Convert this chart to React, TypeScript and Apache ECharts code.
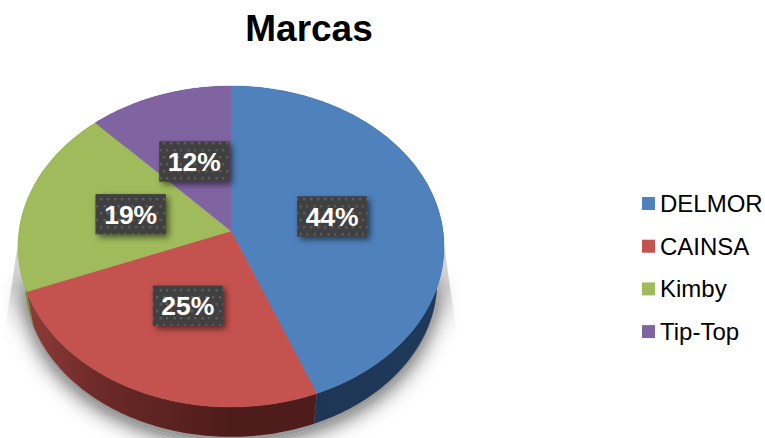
import React, { useEffect, useRef } from "react";
import * as echarts from "echarts";

const brands = ["DELMOR", "CAINSA", "Kimby", "Tip-Top"];
const shares = [44, 25, 19, 12];
const colors = ["#4F81BD", "#C4524F", "#9FBB5B", "#8064A2"];
const titleText = "Marcas";
const FONT = "'Liberation Sans', Arial, sans-serif";

const total = shares.reduce((a, b) => a + b, 0);
const CX = 231, CY = 231, KP = 0.0966, AX = 212, AY = 159;

// projective view of the tilted disc: fraction f of the radius at clockwise angle t (deg from top)
function proj(t: number, f = 1, scale = 1, cy = CY): number[] {
  const a = (t * Math.PI) / 180;
  const s = Math.sin(a), c = Math.cos(a);
  const d = 1 + KP * c * f;
  return [CX + (scale * AX * s * f) / d, cy - (scale * AY * c * f) / d];
}
function arc(t0: number, t1: number, scale = 1, cy = CY): number[][] {
  const out: number[][] = [];
  const n = Math.max(2, Math.ceil(Math.abs(t1 - t0)));
  for (let i = 0; i <= n; i++) out.push(proj(t0 + ((t1 - t0) * i) / n, 1, scale, cy));
  return out;
}
function startOf(i: number) {
  let sum = 0;
  for (let k = 0; k < i; k++) sum += shares[k];
  return (sum / total) * 360;
}
const WALL_SCALE = 0.968, WALL_CY = 266.5;

const dotSvg =
  "data:image/svg+xml;utf8," +
  encodeURIComponent(
    '<svg xmlns="http://www.w3.org/2000/svg" width="14" height="14"><rect width="14" height="14" fill="#404040"/><rect x="2" y="2" width="2.4" height="2.4" fill="#5c5c5c"/><rect x="9" y="2" width="2.4" height="2.4" fill="#5c5c5c"/><rect x="5.5" y="9" width="2.4" height="2.4" fill="#5c5c5c"/><rect x="12" y="9" width="2" height="2.4" fill="#5c5c5c"/></svg>'
  );

const wallStops: Record<number, [number, string][]> = {
  0: [[0, "#1F3A5C"], [1, "#1D3350"]],
  1: [[0, "#4D1C1B"], [0.3, "#4E1C1B"], [0.75, "#6C2A28"], [1, "#8E3C39"]],
  2: [[0, "#5F7A30"], [1, "#7A9A3C"]],
  3: [[0, "#4A3A60"], [1, "#4A3A60"]],
};

const wallSeries = {
  type: "custom",
  name: "wall",
  coordinateSystem: "none",
  silent: true,
  data: shares.map((v, i) => [i, v]),
  renderItem: (_p: any, api: any) => {
    const i = api.value(0) as number;
    const t0 = startOf(i);
    const t1 = t0 + ((api.value(1) as number) / total) * 360;
    const children: any[] = [];
    if (i === 0) {
      children.push({
        type: "polygon",
        shape: { points: [[22, 215], [3, 345], [3, 345], [458, 345], [440, 215]] },
        style: {
          fill: {
            type: "linear", x: 0, y: 0, x2: 0, y2: 1,
            colorStops: [
              { offset: 0, color: "rgba(205,205,205,0.9)" },
              { offset: 0.55, color: "rgba(205,205,205,0.85)" },
              { offset: 1, color: "rgba(255,255,255,0)" },
            ],
          },
        },
      });
      children.push({
        type: "polygon",
        shape: { points: arc(95, 265, WALL_SCALE, WALL_CY + 4) },
        style: { fill: "#9a9a9a", shadowBlur: 22, shadowColor: "rgba(0,0,0,0.7)", shadowOffsetY: 2 },
      });
    }
    const top = arc(t0, t1);
    const bottom = arc(t1, t0, WALL_SCALE, WALL_CY);
    children.push({
      type: "polygon",
      shape: { points: top.concat(bottom) },
      style: {
        fill: {
          type: "linear", x: 1, y: 0, x2: 0, y2: 0,
          colorStops: wallStops[i].map(([offset, color]) => ({ offset, color })),
        },
      },
    });
    return { type: "group", children };
  },
};

const sliceSeries = brands.map((name, i) => ({
  type: "custom",
  name,
  coordinateSystem: "none",
  silent: true,
  itemStyle: { color: colors[i] },
  data: [[i, shares[i]]],
  renderItem: (_p: any, api: any) => {
    const idx = api.value(0) as number;
    const val = api.value(1) as number;
    const t0 = startOf(idx);
    const t1 = t0 + (val / total) * 360;
    const [lx, ly] = proj((t0 + t1) / 2, 0.49);
    const w = 70, h = 40;
    return {
      type: "group",
      children: [
        {
          type: "polygon",
          shape: { points: [[CX, CY], ...arc(t0, t1)] },
          style: { fill: colors[idx], stroke: colors[idx], lineWidth: 0.4 },
        },
        {
          type: "rect",
          shape: { x: lx - w / 2, y: ly - h / 2, width: w, height: h },
          style: {
            fill: "#404040",
            shadowBlur: 6,
            shadowOffsetX: 3,
            shadowOffsetY: 3,
            shadowColor: "rgba(0,0,0,0.55)",
          },
        },
        {
          type: "rect",
          shape: { x: lx - w / 2, y: ly - h / 2, width: w, height: h },
          style: {
            fill: { image: dotSvg, repeat: "repeat", imageWidth: 14, imageHeight: 14 },
          },
        },
        {
          type: "text",
          x: lx,
          y: ly + 0.5,
          style: {
            text: `${val}%`,
            fill: "#fff",
            font: `bold 26.5px ${FONT}`,
            align: "center",
            verticalAlign: "middle",
          },
        },
      ],
    };
  },
}));

export default function App() {
  const ref = useRef<HTMLDivElement>(null);
  useEffect(() => {
    if (!ref.current) return;
    const chart = echarts.init(ref.current, undefined, { renderer: "svg" });
    chart.setOption({
      animation: false,
      backgroundColor: "#fff",
      title: {
        text: titleText,
        left: 304,
        top: 5,
        textAlign: "center",
        textStyle: { fontFamily: FONT, fontWeight: "bold", fontSize: 37, color: "#000" },
      },
      legend: {
        orient: "vertical",
        left: 637,
        top: 186,
        data: brands,
        icon: "rect",
        itemWidth: 13,
        itemHeight: 13,
        itemGap: 17.7,
        selectedMode: false,
        textStyle: { fontFamily: FONT, fontSize: 24, color: "#000", lineHeight: 25 },
      },
      series: [wallSeries, ...sliceSeries],
    });
    return () => chart.dispose();
  }, []);
  return <div ref={ref} style={{ position: "fixed", left: 0, top: 0, width: 765, height: 438 }} />;
}
